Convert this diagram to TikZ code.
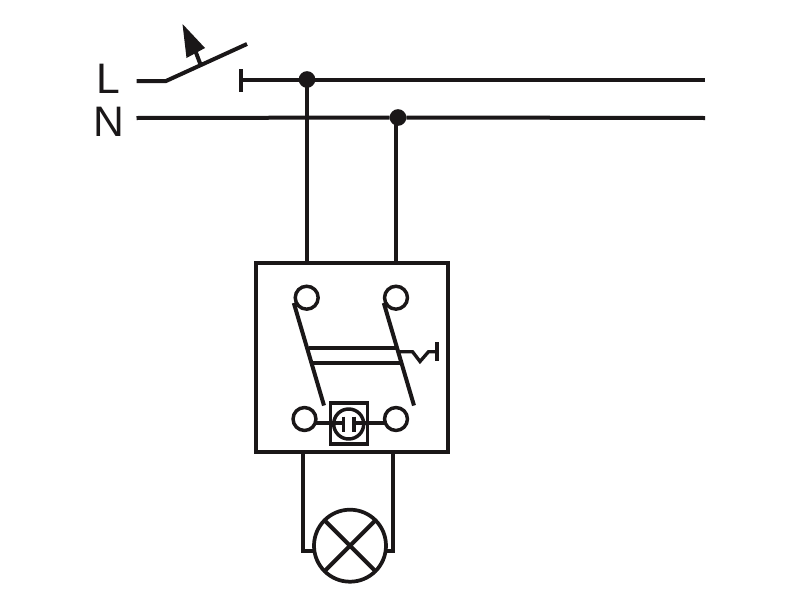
\documentclass[tikz,border=0pt]{standalone}
\usepackage{fontspec}
\setmainfont{Liberation Sans}
\definecolor{ink}{HTML}{1A1718}
\tikzset{
  wire/.style={draw=ink,line width=3pt,line cap=butt,line join=miter},
  thinwire/.style={draw=ink,line width=2.5pt,line join=miter},
  dot/.style={circle,fill=ink,inner sep=0pt,minimum size=12.5pt,outer sep=0pt},
  terminal/.style={circle,draw=ink,line width=2.6pt,fill=white,inner sep=0pt,minimum size=17.2pt,outer sep=0pt},
  lamp/.style={circle,draw=ink,line width=2.8pt,fill=white,inner sep=0pt,minimum size=54pt,outer sep=0pt},
  housing/.style={rectangle,draw=ink,line width=3pt,inner sep=0pt,minimum width=144pt,minimum height=141.5pt,outer sep=0pt},
  glow/.style={rectangle,draw=ink,line width=2.6pt,inner sep=0pt,minimum width=27.8pt,minimum height=30.8pt,outer sep=0pt},
  glowring/.style={circle,draw=ink,line width=2.6pt,inner sep=0pt,minimum size=22.5pt,outer sep=0pt},
  letter/.style={font=\fontsize{32pt}{34pt}\selectfont,text=ink,inner sep=0pt,anchor=base west},
}
\begin{document}
\begin{tikzpicture}[x=0.75pt,y=-0.75pt]
\useasboundingbox (0,0) rectangle (800,600);
\fill[white] (0,0) rectangle (800,600);
% letters
\node[letter] (lL) at (96.5,93.5) {L};
\node[letter] (lN) at (93.5,136) {N};
% coordinates
\coordinate (lstart) at (136.5,81);
\coordinate (lknee) at (166,81);
\coordinate (ltip) at (247,44);
\coordinate (lstem) at (200.5,64.5);
\coordinate (lstemtop) at (195,50);
\coordinate (ahTip) at (182.5,24);
\coordinate (ahA) at (186.5,58);
\coordinate (ahB) at (205,48);
\coordinate (cTop) at (240.5,69);
\coordinate (cBot) at (240.5,92);
\coordinate (cMid) at (240.5,79.5);
\coordinate (lend) at (705,79.5);
\coordinate (nstart) at (136.5,118);
\coordinate (nend) at (705,118);
% housing and its feeders
\node[housing] (box) at (352,357.5) {};
\coordinate (boxL) at (306.5,263);
\coordinate (boxR) at (396,263);
\node[dot] (dotL) at (307,79.5) {};
\node[dot] (dotN) at (398,117.5) {};
% mains
\draw[wire] (lstart) -- (lknee) -- (ltip);
\draw[wire] (lstem) -- (lstemtop);
\fill[ink] (ahTip) -- (ahA) -- (ahB) -- cycle;
\draw[wire] (cTop) -- (cBot);
\draw[wire] (cMid) -- (dotL) -- (lend);
\draw[wire] (nstart) -- (dotN) -- (nend);
\draw[wire] (dotL.center) -- (dotL.center |- boxL);
\draw[wire] (396,117.5) -- (boxR);
% glow lamp leads, under the terminals
\coordinate (gl) at (343.5,423);
\coordinate (gr) at (354,423);
\coordinate (t3base) at (304.5,419);
\coordinate (t4base) at (396,419);
\draw[thinwire] (t3base |- gl) -- (gl);
\draw[thinwire] (gr) -- (t4base |- gr);
% terminals
\node[terminal] (t1) at (306.7,297.7) {};
\node[terminal] (t2) at (396,297.7) {};
\node[terminal] (t3) at (t3base) {};
\node[terminal] (t4) at (t4base) {};
% rockers
\coordinate (r1a) at (293.8,303);
\coordinate (r1b) at (324,405.5);
\coordinate (r2a) at (383.8,303);
\coordinate (r2b) at (414,405.5);
\draw[wire] (r1a) -- (r1b);
\draw[wire] (r2a) -- (r2b);
\draw[wire] (308.5,347.7) -- (397,347.7);
\draw[wire] (313,363.3) -- (401.5,363.3);
% toggle spring
\draw[thinwire] (398.5,351.7) -- (412.5,351.7) -- (420,361.5) -- (428.5,351.7) -- (437.3,351.7);
\coordinate (sTop) at (437.3,342);
\coordinate (sBot) at (437.3,360.5);
\draw[wire] (sTop) -- (sBot);
% glow lamp
\node[glow] (gbox) at (349,423.5) {};
\node[glowring] (gring) at (348.7,424) {};
\draw[thinwire] (gbox.west |- gl) -- (gl);
\draw[thinwire] (gr) -- (gbox.east |- gr);
\draw[thinwire] (343.5,416.5) -- (343.5,431.5);
\draw[thinwire] (354,416.5) -- (354,431.5);
% lamp
\node[lamp] (lmp) at (350,545.7) {};
\draw[wire] (lmp.45) -- (lmp.225);
\draw[wire] (lmp.135) -- (lmp.315);
\coordinate (fL) at (303,452);
\coordinate (fR) at (392.7,452);
\coordinate (kL) at (303,551);
\coordinate (kR) at (392.7,551);
\draw[wire] (fL) -- (kL) -- (lmp.west |- kL);
\draw[wire] (fR) -- (kR) -- (lmp.east |- kR);
\end{tikzpicture}
\end{document}
